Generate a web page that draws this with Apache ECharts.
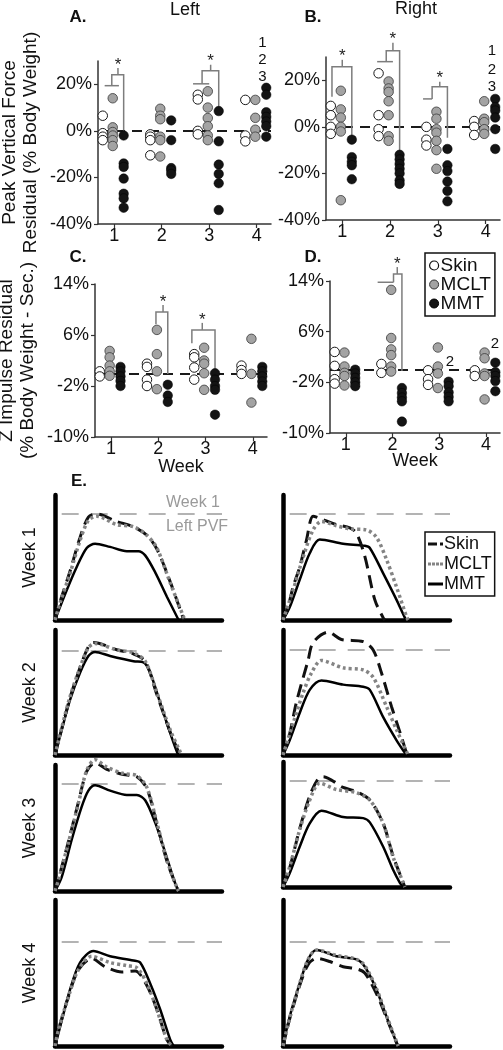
<!DOCTYPE html>
<html><head><meta charset="utf-8">
<script src="https://cdn.jsdelivr.net/npm/echarts@6/dist/echarts.min.js"></script>
<style>html,body{margin:0;padding:0;background:#fff}#c{width:503px;height:1050px}</style>
</head><body><div id="c"></div>
<script>
// ---------- categories / tick labels ----------
const weekLabels = ['1','2','3','4'];
const groupNames = ['Skin','MCLT','MMT'];
const pvfTicks = [-40,-20,0,20];
const zTicks = [-10,-2,6,14];

// ---------- A. Peak vertical force residual, Left (% BW), one list per week ----------
const pvfLeftSkin = [[6.5,-1,-2.5,-4],[-1.5,-2.5,-4,-10.5],[15.5,13.5,0,-1.5],[13.3,-2,-4.5]];
const pvfLeftMCLT = [[14,1.5,-0.5,-2,-4,-6.5],[9.5,6.5,5,-2.5,-4,-11],[17,10,5.5,2,-2,-4],[13.3,5.6,0.5,-2.5]];
const pvfLeftMMT  = [[-2,-14,-15.5,-20.5,-27,-29,-33],[4.5,-4,-16,-17,-18.5],[8.5,-4.5,-14.5,-18.5,-22.5,-34],[18.5,15.5,8,6,4,2,-2.5]];

// ---------- B. Peak vertical force residual, Right ----------
const pvfRightSkin = [[9,5,0,-3],[23,5,-1,-4],[0,-5.5,-8],[2.5,0,-3.5]];
const pvfRightMCLT = [[15.5,7.5,4,0,-2,-31.5],[19.5,16.5,15,11,5,-4,-6],[6.5,3.5,-1,-2.5,-6,-10,-18],[11,3.5,2,-1,-3]];
const pvfRightMMT  = [[-5.5,-13,-15,-16.5,-22.5],[-12,-14,-16,-18,-20,-23,-24.5],[-9.5,-16.5,-19,-23.5,-27.5,-32],[12,8.5,7,4,-1,-9.5]];

// ---------- C. Z impulse residual, Left ----------
const zLeftSkin = [[0.3,-0.5],[1.5,1,-1,-2],[3,2.5,0.9,-1],[1.2,0.5,-0.1]];
const zLeftMCLT = [[3.5,2.5,1.2,0.3,-0.4],[6.8,3,0.3,-2.5],[4,2,1.5,0,-2.6],[5.4,-0.1,-4.6]];
const zLeftMMT  = [[1,0.3,-0.5,-1.2,-2],[-1.8,-3.5,-4.5],[0,-1,-2,-2.6,-6.5],[1,0.3,-0.5,-1.3,-2]];

// ---------- D. Z impulse residual, Right ----------
const zRightSkin = [[2.8,0.6,-1.5,-2.2],[0.9,-0.5],[-0.1,-1.5,-2.4],[-0.1,-1]];
const zRightMCLT = [[2.7,0.5,-0.5,-1,-2.5],[12.6,5,3.2,2.3,0.5,-0.3],[3.5,0.5,-0.6,-2.9],[2.7,1.8,-0.6,-1,-4.7]];
const zRightMMT  = [[0,-0.6,-1.3,-2,-2.6],[-2.9,-3.7,-4.4,-5,-8.2],[-1.9,-2.6,-3.6,-4.3,-5],[1.1,-0.4,-1,-1.8,-3.4]];

// ---------- significance brackets (data units: week, %) ----------
const bracketsA = [
  {bar:[0.8,1.1,19.4], leg:0.95, top:24.1, right:1.2, end:0, tick:1.08, tickTop:27},
  {bar:[2.66,3.0,20.2], leg:2.85, top:25.8, right:3.2, end:8.2, tick:3.03, tickTop:28.4}
];
const bracketsB = [
  {legBottom:12.9, leg:0.785, top:25.8, right:1.2, end:-4.3, tick:1.0, tickTop:28.8},
  {bar:[1.73,2.06,28], leg:1.92, top:32.7, right:2.2, end:-10.8, tick:2.06, tickTop:36.1},
  {bar:[2.69,2.88,12], leg:2.88, top:17.2, right:3.2, end:-4.7, tick:3.04, tickTop:19.4}
];
const bracketsC = [
  {legBottom:7.7, leg:1.95, top:9.6, right:2.2, end:-0.1, tick:2.1, tickTop:10.7},
  {legBottom:4.7, leg:2.71, top:6.8, right:3.2, end:0.2, tick:2.93, tickTop:7.9}
];
const bracketsD = [
  {bar:[1.68,2.02,13.8], leg:2.02, top:15.1, right:2.2, end:-0.2, tick:2.1, tickTop:16.2}
];
// small number annotations [week, %, text]
const notesA = [[4.12,37.8,'1'],[4.12,30.5,'2'],[4.12,23.2,'3']];
const notesB = [[4.13,32.7,'1'],[4.13,24.5,'2'],[4.13,17.2,'3']];
const notesD = [[3.23,1.25,'2'],[4.19,4.05,'2']];

// ---------- E. force curves, [% of stance axis, force / Week-1 Left PVF] ----------
const eL1Skin = [[0,0],[3,0.17],[9,0.46],[15,0.78],[20,0.97],[25,1.0],[37,0.93],[47,0.88],[55,0.8],[61,0.67],[69,0.36],[76,0.05],[77,0]];
const eL1MCLT = [[0,0],[3,0.16],[9,0.44],[15,0.75],[20,0.94],[25,0.98],[37,0.9],[47,0.88],[55,0.8],[61,0.68],[69,0.35],[77,0.03],[78,0]];
const eL1MMT  = [[0,0],[7,0.28],[13,0.5],[19,0.68],[24,0.72],[33,0.69],[43,0.65],[50,0.65],[54,0.61],[60,0.45],[67,0.22],[74,0]];
const eR1Skin = [[0,0],[3,0.12],[6,0.31],[10,0.5],[14,0.75],[18,0.98],[22,0.96],[32,0.9],[40,0.87],[44,0.82],[49,0.6],[55,0.19],[60,0.02],[61,0]];
const eR1MCLT = [[0,0],[6,0.28],[12,0.59],[18,0.85],[23,0.93],[32,0.89],[40,0.86],[50,0.85],[56,0.78],[62,0.57],[68,0.31],[74,0.03],[75,0]];
const eR1MMT  = [[0,0],[4,0.12],[10,0.38],[16,0.63],[22,0.76],[36,0.72],[49,0.7],[52,0.68],[60,0.44],[68,0.19],[73,0.02],[74,0]];
const eL2Skin = [[0,0],[4,0.25],[9,0.55],[15,0.84],[20,1.04],[23,1.08],[37,1.01],[47,0.97],[54,0.9],[61,0.58],[69,0.22],[74,0.03],[75,0]];
const eL2MCLT = [[0,0],[4,0.26],[9,0.56],[15,0.84],[20,1.03],[24,1.07],[37,1.01],[47,0.98],[54,0.9],[61,0.6],[69,0.24],[75,0.03],[76,0]];
const eL2MMT  = [[0,0],[4,0.24],[9,0.53],[15,0.79],[20,0.95],[24,0.99],[33,0.95],[47,0.9],[53,0.89],[57,0.79],[63,0.5],[69,0.21],[73,0.03],[74,0]];
const eR2Skin = [[0,0],[4,0.2],[8,0.5],[15,0.9],[18,1.07],[27,1.17],[35,1.1],[48,1.08],[54,1.0],[59,0.78],[65,0.46],[71,0.17],[74,0.02],[75,0]];
const eR2MCLT = [[0,0],[6,0.3],[12,0.59],[17,0.78],[23,0.9],[36,0.83],[48,0.81],[54,0.74],[62,0.46],[68,0.24],[74,0.03],[75,0]];
const eR2MMT  = [[0,0],[4,0.14],[10,0.4],[16,0.62],[23,0.71],[36,0.67],[48,0.65],[52,0.62],[60,0.36],[68,0.14],[73,0.02],[74,0]];
const eL3Skin = [[0,0],[2,0.11],[8,0.46],[14,0.83],[19,1.12],[24,1.2],[31,1.14],[41,1.09],[49,1.07],[55,0.96],[61,0.63],[67,0.28],[73,0.03],[74,0]];
const eL3MCLT = [[0,0],[2,0.1],[8,0.45],[14,0.82],[19,1.13],[24,1.23],[31,1.16],[41,1.1],[49,1.08],[55,0.97],[61,0.64],[67,0.29],[73,0.03],[74,0]];
const eL3MMT  = [[0,0],[4,0.13],[10,0.48],[16,0.79],[20,0.94],[24,0.99],[33,0.94],[43,0.9],[49,0.9],[54,0.85],[60,0.64],[66,0.36],[72,0.07],[74,0]];
const eR3Skin = [[0,0],[4,0.18],[10,0.55],[16,0.86],[21,1.02],[24,1.04],[36,0.94],[44,0.9],[52,0.82],[60,0.6],[66,0.29],[72,0.04],[73,0]];
const eR3MCLT = [[0,0],[4,0.19],[10,0.54],[16,0.82],[22,0.98],[32,0.92],[44,0.89],[52,0.82],[60,0.6],[66,0.28],[72,0.04],[73,0]];
const eR3MMT  = [[0,0],[4,0.13],[10,0.38],[16,0.6],[23,0.72],[36,0.66],[48,0.65],[52,0.61],[60,0.38],[66,0.16],[70,0.04],[72,0]];
const eL4Skin = [[0,0],[2,0.15],[8,0.47],[14,0.73],[22,0.84],[30,0.76],[40,0.71],[48,0.72],[55,0.58],[61,0.35],[67,0.06],[70,0]];
const eL4MCLT = [[0,0],[2,0.15],[8,0.47],[14,0.73],[22,0.86],[33,0.8],[43,0.77],[49,0.75],[55,0.6],[61,0.35],[67,0.06],[70,0]];
const eL4MMT  = [[0,0],[3,0.18],[9,0.54],[15,0.8],[23,0.91],[33,0.86],[47,0.82],[51,0.8],[57,0.6],[63,0.35],[69,0.06],[71,0]];
const eR4Skin = [[0,0],[4,0.26],[10,0.58],[15,0.78],[20,0.84],[28,0.81],[36,0.76],[44,0.74],[49,0.7],[56,0.5],[62,0.27],[68,0.03],[69,0]];
const eR4MCLT = [[0,0],[4,0.27],[10,0.6],[15,0.83],[20,0.92],[32,0.87],[44,0.83],[49,0.77],[56,0.55],[62,0.29],[68,0.04],[69,0]];
const eR4MMT  = [[0,0],[4,0.28],[10,0.6],[15,0.83],[20,0.92],[32,0.86],[44,0.83],[49,0.76],[56,0.54],[62,0.28],[68,0.03],[69,0]];
const refLevel = 1; // Week 1 Left PVF

// ---------- layout & style ----------
const FONT = '"Liberation Sans", Arial, Helvetica, sans-serif';
const XMIN = 0.66, XMAX = 4.3;
const groupOffset = [-0.24, -0.03, 0.2];
const groupStyle = [
  {color:'#ffffff', borderColor:'#1a1a1a', borderWidth:1, opacity:1},
  {color:'#a3a3a3', borderColor:'#3a3a3a', borderWidth:0.8, opacity:1},
  {color:'#141414', borderColor:'#000000', borderWidth:0.5, opacity:1}
];

const scatterPanels = [
  {grid:{left:98, top:61, width:173, height:163}, min:-40, max:30, ticks:pvfTicks,
   data:[pvfLeftSkin,pvfLeftMCLT,pvfLeftMMT], brackets:bracketsA, notes:notesA,
   yName:'Peak Vertical Force\nResidual (% Body Weight)'},
  {grid:{left:326, top:57, width:174, height:163}, min:-40, max:30, ticks:pvfTicks,
   data:[pvfRightSkin,pvfRightMCLT,pvfRightMMT], brackets:bracketsB, notes:notesB},
  {grid:{left:95, top:284, width:172, height:153}, min:-10, max:14, ticks:zTicks,
   data:[zLeftSkin,zLeftMCLT,zLeftMMT], brackets:bracketsC, notes:[],
   yName:'Z Impulse Residual\n(% Body Weight - Sec.)', xName:'Week', xNameGap:21},
  {grid:{left:330, top:281, width:170, height:152}, min:-10, max:14, ticks:zTicks,
   data:[zRightSkin,zRightMCLT,zRightMMT], brackets:bracketsD, notes:notesD, xName:'Week', xNameGap:19}
];

const ePanels = [
  {left:55, top:495, height:125, ymax:1.18, name:'Week 1', data:[eL1Skin,eL1MCLT,eL1MMT]},
  {left:283, top:495, height:125, ymax:1.18, data:[eR1Skin,eR1MCLT,eR1MMT]},
  {left:55, top:630, height:125, ymax:1.2, name:'Week 2', data:[eL2Skin,eL2MCLT,eL2MMT]},
  {left:283, top:630, height:125, ymax:1.19, data:[eR2Skin,eR2MCLT,eR2MMT]},
  {left:55, top:765, height:126, ymax:1.18, name:'Week 3', data:[eL3Skin,eL3MCLT,eL3MMT]},
  {left:283, top:762, height:125, ymax:1.18, data:[eR3Skin,eR3MCLT,eR3MMT]},
  {left:55, top:900, height:146, ymax:1.4, name:'Week 4', data:[eL4Skin,eL4MCLT,eL4MMT]},
  {left:283, top:900, height:146, ymax:1.4, data:[eR4Skin,eR4MCLT,eR4MMT]}
];
const eLineStyles = [
  {color:'#111111', width:3, type:[13,7]},
  {color:'#848484', width:3.5, type:[3,3]},
  {color:'#000000', width:2.5, type:'solid'}
];
const eZ = [4, 5, 3];
const eLegendIcons = [
  'path://M0,0h9v3h-9z M12,0h3v3h-3z',
  'path://M0,0h3v3h-3z M4,0h3v3h-3z M8,0h3v3h-3z M12,0h3v3h-3z',
  'path://M0,0h15v3h-15z'
];

const grids = [], xAxes = [], yAxes = [], series = [];
const transparent = {color:'rgba(0,0,0,0)'};

scatterPanels.forEach((p, i) => {
  grids.push(Object.assign({outerBoundsMode:'none', containLabel:false}, p.grid));
  xAxes.push({
    gridIndex:i, type:'value', min:XMIN, max:XMAX,
    axisLine:{show:true, onZero:false, lineStyle:{color:'#333', width:1.5}},
    axisTick:{show:true, customValues:[1,2,3,4], length:4, lineStyle:{color:'#333', width:1.2}},
    axisLabel:{show:true, customValues:[1,2,3,4], formatter:v => weekLabels[Math.round(v)-1],
      fontSize:18, color:'#111', fontFamily:FONT, margin:3},
    splitLine:{show:false},
    name:p.xName || '', nameLocation:'middle', nameGap:p.xNameGap || 20, nameMoveOverlap:false,
    nameTextStyle:{fontSize:18, color:'#111', fontFamily:FONT}
  });
  yAxes.push({
    gridIndex:i, type:'value', min:p.min, max:p.max,
    axisLine:{show:true, onZero:false, lineStyle:{color:'#333', width:1.5}},
    axisTick:{show:true, customValues:p.ticks, length:4, lineStyle:{color:'#333', width:1.2}},
    axisLabel:{show:true, customValues:p.ticks, formatter:v => v + '%',
      fontSize:18, color:'#111', fontFamily:FONT, margin:6},
    splitLine:{show:false},
    name:p.yName || '', nameLocation:'middle', nameRotate:90, nameGap:57, nameMoveOverlap:false,
    nameTextStyle:{fontSize:19, lineHeight:21, color:'#111', fontFamily:FONT, align:'center'}
  });
  // zero reference (dashed)
  series.push({type:'lines', coordinateSystem:'cartesian2d', xAxisIndex:i, yAxisIndex:i, silent:true, z:2,
    data:[{coords:[[XMIN,0],[XMAX,0]]}],
    lineStyle:{color:'#1a1a1a', width:2, type:[10,7], opacity:1}});
  // points
  p.data.forEach((weeks, gi) => {
    series.push({
      type:'scatter', name:groupNames[gi], xAxisIndex:i, yAxisIndex:i, silent:true, z:4,
      symbol:'circle', symbolSize:9.5, itemStyle:groupStyle[gi],
      data: weeks.flatMap((vals, w) => vals.map(v => [w + 1 + groupOffset[gi], v]))
    });
  });
  // brackets
  const segs = [];
  p.brackets.forEach(b => {
    if (b.bar) segs.push({coords:[[b.bar[0], b.bar[2]], [b.bar[1], b.bar[2]]]});
    const start = b.bar ? b.bar[2] : b.legBottom;
    segs.push({coords:[[b.leg, start], [b.leg, b.top], [b.right, b.top], [b.right, b.end]]});
    segs.push({coords:[[b.tick, b.top], [b.tick, b.tickTop]]});
  });
  series.push({type:'lines', coordinateSystem:'cartesian2d', xAxisIndex:i, yAxisIndex:i, silent:true, z:3,
    polyline:true, clip:false, data:segs, lineStyle:{color:'#7d7d7d', width:1.5, opacity:1}});
  series.push({type:'scatter', xAxisIndex:i, yAxisIndex:i, silent:true, z:5, clip:false,
    symbolSize:1, itemStyle:transparent,
    data:p.brackets.map(b => [b.tick, b.tickTop]),
    label:{show:true, formatter:'*', position:'inside', offset:[0,-3], fontSize:17, color:'#222',
      opacity:1, textBorderWidth:0, fontFamily:FONT}});
  if (p.notes.length) series.push({type:'scatter', xAxisIndex:i, yAxisIndex:i, silent:true, z:5, clip:false,
    symbolSize:1, itemStyle:transparent,
    data:p.notes.map(n => ({name:n[2], value:[n[0], n[1]]})),
    label:{show:true, formatter:'{b}', position:'inside', fontSize:15, color:'#111',
      opacity:1, textBorderWidth:0, fontFamily:FONT}});
});

ePanels.forEach((p, k) => {
  const i = scatterPanels.length + k;
  grids.push({left:p.left, top:p.top, width:167, height:p.height, outerBoundsMode:'none', containLabel:false});
  xAxes.push({gridIndex:i, type:'value', min:0, max:100,
    axisLine:{show:true, onZero:false, lineStyle:{color:'#000', width:4.5}},
    axisTick:{show:false}, axisLabel:{show:false}, splitLine:{show:false}});
  yAxes.push({gridIndex:i, type:'value', min:0, max:p.ymax,
    axisLine:{show:true, onZero:false, lineStyle:{color:'#000', width:4.5}},
    axisTick:{show:false}, axisLabel:{show:false}, splitLine:{show:false},
    name:p.name || '', nameLocation:'middle', nameRotate:90, nameGap:16, nameMoveOverlap:false,
    nameTextStyle:{fontSize:18, color:'#111', fontFamily:FONT}});
  series.push({type:'lines', coordinateSystem:'cartesian2d', xAxisIndex:i, yAxisIndex:i, silent:true, z:1,
    data:[{coords:[[4, refLevel], [100, refLevel]]}],
    lineStyle:{color:'#9b9b9b', width:1.6, type:[17,12], opacity:1}});
  p.data.forEach((curve, gi) => {
    series.push({type:'line', name:'E-' + groupNames[gi], xAxisIndex:i, yAxisIndex:i, silent:true,
      data:curve, symbol:'none', smooth:0.3, clip:false, z:eZ[gi],
      itemStyle:{color:eLineStyles[gi].color},
      lineStyle:Object.assign({cap:'butt'}, eLineStyles[gi])});
  });
});

const txt = (x, y, text, opts) => Object.assign({type:'text', x, y, silent:true,
  style:Object.assign({text, fill:'#111', font:'18px ' + FONT, align:'center', verticalAlign:'middle'}, opts || {})});
const bold = {font:'bold 17px ' + FONT};

const option = {
  backgroundColor:'#ffffff',
  animation:false,
  grid:grids, xAxis:xAxes, yAxis:yAxes, series:series,
  legend:[
    {left:425, top:253, orient:'vertical', selectedMode:false,
     itemWidth:9, itemHeight:9, itemGap:0, padding:[3,4,3,4],
     borderColor:'#111', borderWidth:1.5, backgroundColor:'#fff',
     textStyle:{fontSize:19, lineHeight:17, color:'#111', fontFamily:FONT, padding:[0,0,0,-3]},
     data:[
       {name:'Skin', icon:'circle', itemStyle:{color:'#fff', borderColor:'#111', borderWidth:1.2, opacity:1}},
       {name:'MCLT', icon:'circle', itemStyle:{color:'#a3a3a3', borderColor:'#333', borderWidth:1, opacity:1}},
       {name:'MMT', icon:'circle', itemStyle:{color:'#141414', borderColor:'#000', borderWidth:1, opacity:1}}
     ]},
    {left:425, top:532, orient:'vertical', selectedMode:false,
     itemWidth:15, itemHeight:3, itemGap:2, padding:[3,3,3,3],
     borderColor:'#111', borderWidth:1.5, backgroundColor:'#fff',
     formatter:n => n.slice(2),
     textStyle:{fontSize:18, lineHeight:17, color:'#111', fontFamily:FONT, padding:[0,0,0,-4]},
     data:groupNames.map((g, gi) => ({name:'E-' + g, icon:eLegendIcons[gi],
       itemStyle:{color:eLineStyles[gi].color, borderWidth:0, opacity:1}}))}
  ],
  graphic:[
    txt(78, 17, 'A.', bold), txt(185, 10, 'Left'),
    txt(313, 17, 'B.', bold), txt(416, 9, 'Right'),
    txt(78, 257, 'C.', bold), txt(313, 257, 'D.', bold),
    txt(79, 481, 'E.', bold),
    txt(193, 503, 'Week 1', {fill:'#9a9a9a', font:'16px ' + FONT}),
    txt(197, 527, 'Left PVF', {fill:'#9a9a9a', font:'16px ' + FONT})
  ]
};

const chart = echarts.init(document.getElementById('c'), null, {renderer:'canvas'});
chart.setOption(option);
</script></body></html>
